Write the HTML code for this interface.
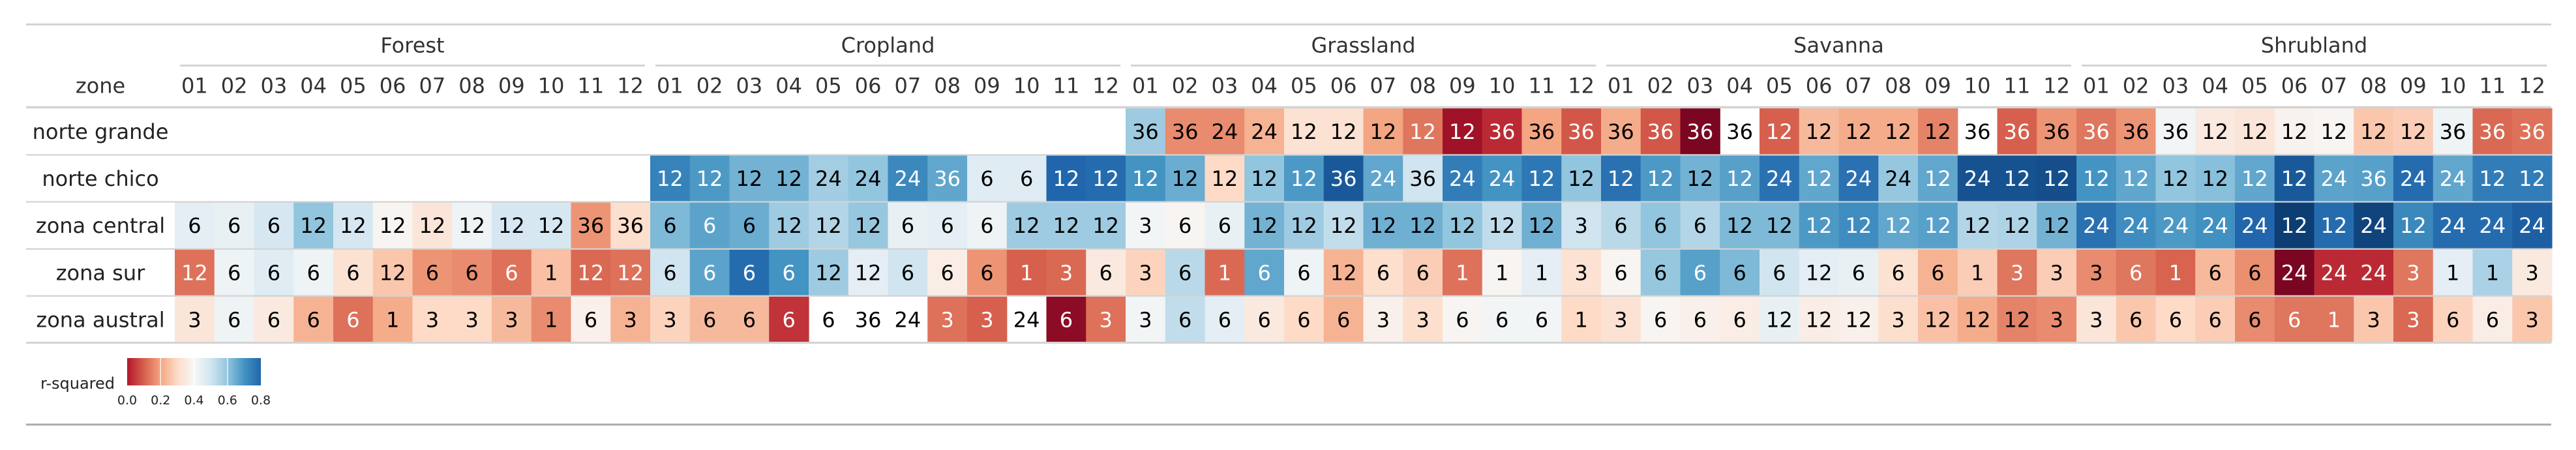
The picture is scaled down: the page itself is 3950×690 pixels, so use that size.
<!DOCTYPE html>
<html><head><meta charset="utf-8">
<style>
html,body{margin:0;padding:0;background:#fff;}
svg{display:block;font-family:"DejaVu Sans","Liberation Sans",sans-serif;}
</style></head>
<body>
<svg id="chart" width="3950" height="690" xmlns="http://www.w3.org/2000/svg">
<g id="grid"></g>
<g id="lines"></g>
<g id="labels"></g>
<g id="legend"></g>
</svg>
<script>
const groups = ["Forest","Cropland","Grassland","Savanna","Shrubland"];
const months = ["01","02","03","04","05","06","07","08","09","10","11","12"];
const zones = ["norte grande","norte chico","zona central","zona sur","zona austral"];
const legendTicks = [0.0,0.2,0.4,0.6,0.8];
// lag annotations (null = no cell)
const lagNorteGrande = [
 null,null,null,null,null,null,null,null,null,null,null,null,
 null,null,null,null,null,null,null,null,null,null,null,null,
 36,36,24,24,12,12,12,12,12,36,36,36,
 36,36,36,36,12,12,12,12,12,36,36,36,
 36,36,36,12,12,12,12,12,12,36,36,36];
const lagNorteChico = [
 null,null,null,null,null,null,null,null,null,null,null,null,
 12,12,12,12,24,24,24,36,6,6,12,12,
 12,12,12,12,12,36,24,36,24,24,12,12,
 12,12,12,12,24,12,24,24,12,24,12,12,
 12,12,12,12,12,12,24,36,24,24,12,12];
const lagZonaCentral = [
 6,6,6,12,12,12,12,12,12,12,36,36,
 6,6,6,12,12,12,6,6,6,12,12,12,
 3,6,6,12,12,12,12,12,12,12,12,3,
 6,6,6,12,12,12,12,12,12,12,12,12,
 24,24,24,24,24,12,12,24,12,24,24,24];
const lagZonaSur = [
 12,6,6,6,6,12,6,6,6,1,12,12,
 6,6,6,6,12,12,6,6,6,1,3,6,
 3,6,1,6,6,12,6,6,1,1,1,3,
 6,6,6,6,6,12,6,6,6,1,3,3,
 3,6,1,6,6,24,24,24,3,1,1,3];
const lagZonaAustral = [
 3,6,6,6,6,1,3,3,3,1,6,3,
 3,6,6,6,6,36,24,3,3,24,6,3,
 3,6,6,6,6,6,3,3,6,6,6,1,
 3,6,6,6,12,12,12,3,12,12,12,3,
 3,6,6,6,6,6,1,3,3,6,6,3];
// r-squared values (null = blank colour)
const r2NorteGrande = [
 null,null,null,null,null,null,null,null,null,null,null,null,
 null,null,null,null,null,null,null,null,null,null,null,null,
 .545,.21,.21,.26,.34,.34,.24,.185,.06,.10,.24,.15,
 .25,.15,.02,null,.16,.27,.25,.25,.20,null,.16,.22,
 .185,.22,.41,.36,.35,.385,.39,.29,.30,.42,.17,.18];
const r2NorteChico = [
 null,null,null,null,null,null,null,null,null,null,null,null,
 .67,.63,.59,.59,.54,.56,.66,.61,.45,.45,.72,.71,
 .64,.60,.32,.56,.63,.74,.61,.48,.68,.64,.69,.56,
 .70,.63,.59,.62,.70,.61,.70,.555,.61,.75,.75,.755,
 .64,.61,.56,.57,.61,.74,.615,.62,.71,.61,.68,.68];
const r2ZonaCentral = [
 .44,.43,.47,.56,.47,.39,.35,.42,.47,.47,.22,.33,
 .58,.615,.60,.545,.52,.555,.43,.44,.42,.545,.545,.545,
 .41,.39,.43,.59,.545,.50,.595,.595,.56,.50,.595,.48,
 .51,.56,.52,.58,.58,.63,.65,.61,.62,.52,.525,.59,
 .70,.65,.63,.645,.72,.78,.71,.77,.66,.71,.71,.73];
const r2ZonaSur = [
 .18,.42,.45,.42,.34,.29,.22,.21,.18,.28,.17,.18,
 .48,.615,.71,.64,.545,.44,.48,.37,.22,.16,.17,.36,
 .31,.51,.17,.61,.42,.26,.33,.30,.18,.39,.44,.34,
 .39,.555,.62,.58,.48,.44,.43,.34,.26,.30,.185,.30,
 .21,.185,.165,.27,.215,.02,.10,.10,.185,.44,.53,.36];
const r2ZonaAustral = [
 .35,.42,.36,.26,.18,.25,.32,.32,.27,.21,.38,.26,
 .31,.27,.27,.11,null,null,null,.18,.16,null,.04,.18,
 .41,.50,.44,.36,.32,.26,.38,.33,.39,.41,.41,.32,
 .34,.39,.38,.37,.43,.37,.38,.33,.28,.25,.20,.21,
 .35,.29,.32,.30,.21,.185,.185,.29,.17,.31,.37,.29];
const lagRows = [lagNorteGrande,lagNorteChico,lagZonaCentral,lagZonaSur,lagZonaAustral];
const r2Rows = [r2NorteGrande,r2NorteChico,r2ZonaCentral,r2ZonaSur,r2ZonaAustral];

const NS="http://www.w3.org/2000/svg";
const stops=["#67001f","#b2182b","#d6604d","#f4a582","#fddbc7","#f7f7f7","#d1e5f0","#92c5de","#4393c3","#2166ac","#053061"];
function hex2rgb(h){return [parseInt(h.slice(1,3),16),parseInt(h.slice(3,5),16),parseInt(h.slice(5,7),16)];}
function cmap(v){let t=Math.max(0,Math.min(1,v/0.8))*10;let i=Math.min(9,Math.floor(t));let f=t-i;
 const a=hex2rgb(stops[i]),b=hex2rgb(stops[i+1]);
 return "rgb("+a.map((c,k)=>Math.round(c+(b[k]-c)*f)).join(",")+")";}
function textColor(v){return (v!==null && (v<0.19||v>0.605))?"#ffffff":"#000000";}

const x0=268, cw=60.75, rowTop=[166,238,310,382.5,454.5], rowBot=[237,309,381,453,525];
function xCol(i){return x0+i*cw;}
function mk(tag,attrs,parent){const e=document.createElementNS(NS,tag);for(const k in attrs)e.setAttribute(k,attrs[k]);parent.appendChild(e);return e;}

const grid=document.getElementById('grid');
for(let r=0;r<zones.length;r++){
 for(let c=0;c<groups.length*months.length;c++){
  const v=r2Rows[r][c], lag=lagRows[r][c];
  if(v!==null){
   const rect=mk('rect',{x:xCol(c),y:rowTop[r],width:cw+0.6,height:rowBot[r]-rowTop[r],fill:cmap(v)},grid);
   
   
  }
  if(lag!==null){
   const t=mk('text',{x:xCol(c)+cw/2,y:(rowTop[r]+rowBot[r])/2+11.5,'text-anchor':'middle','font-size':32,fill:textColor(v)},grid);
   t.textContent=lag;
   
   
  }
 }
}
const lines=document.getElementById('lines');
function hline(x1,x2,y,w,col,name){const l=mk('line',{x1:x1,x2:x2,y1:y,y2:y,stroke:col,'stroke-width':w},lines);
 
 }
hline(40,3912,37.5,3,'#d3d3d3','top-rule');
hline(40,3912,164.5,3.5,'#d3d3d3','header-rule');
for(let r=0;r<4;r++) hline(40,3912,(rowBot[r]+rowTop[r+1])/2,2.2,'#d3d3d3','row-separator');
hline(40,3912,525.5,3,'#d3d3d3','table-bottom-rule');
hline(40,3912,651,3,'#aaaaaa','bottom-rule');

const labels=document.getElementById('labels');
groups.forEach((g,gi)=>{
 const xa=xCol(gi*12), xb=xCol(gi*12+12);
 hline(xa+8,xb-8,100.5,3,'#d3d3d3','group-underline');
 const t=mk('text',{x:(xa+xb)/2,y:80.5,'text-anchor':'middle','font-size':32,fill:'#333333'},labels);
 t.textContent=g;
 
 
 months.forEach((m,mi)=>{
  const tm=mk('text',{x:xCol(gi*12+mi)+cw/2,y:142.5,'text-anchor':'middle','font-size':32,fill:'#333333'},labels);
  tm.textContent=m;
  
  
 });
});
const zh=mk('text',{x:154,y:142.5,'text-anchor':'middle','font-size':32,fill:'#333333'},labels);
zh.textContent='zone';


zones.forEach((z,r)=>{
 const t=mk('text',{x:154,y:(rowTop[r]+rowBot[r])/2+11.5,'text-anchor':'middle','font-size':32,fill:'#222222'},labels);
 t.textContent=z;
 
 
});

const legend=document.getElementById('legend');
const lx0=195,lx1=400,ly0=549,ly1=591;
const defs=mk('defs',{},legend);
const grad=mk('linearGradient',{id:'rdbu',x1:0,x2:1,y1:0,y2:0},defs);
const legendStops=stops.slice(1,10);
legendStops.forEach((s,i)=>{mk('stop',{offset:(i/(legendStops.length-1)),'stop-color':s},grad);});
const cb=mk('rect',{x:lx0,y:ly0,width:lx1-lx0,height:ly1-ly0,fill:'url(#rdbu)'},legend);


legendTicks.forEach(v=>{
 const x=lx0+(v/0.8)*(lx1-lx0);
 if(v>0&&v<0.8){const tl=mk('line',{x1:x,x2:x,y1:ly0,y2:ly1,stroke:'#ffffff','stroke-width':1.5,'stroke-opacity':0.8},legend);
  
  }
 const t=mk('text',{x:x,y:620,'text-anchor':'middle','font-size':19,fill:'#222222'},legend);
 t.textContent=v.toFixed(1);
 
 
});
const lt=mk('text',{x:62,y:596,'font-size':24,fill:'#222222'},legend);
lt.textContent='r-squared';


</script>
</body></html>
